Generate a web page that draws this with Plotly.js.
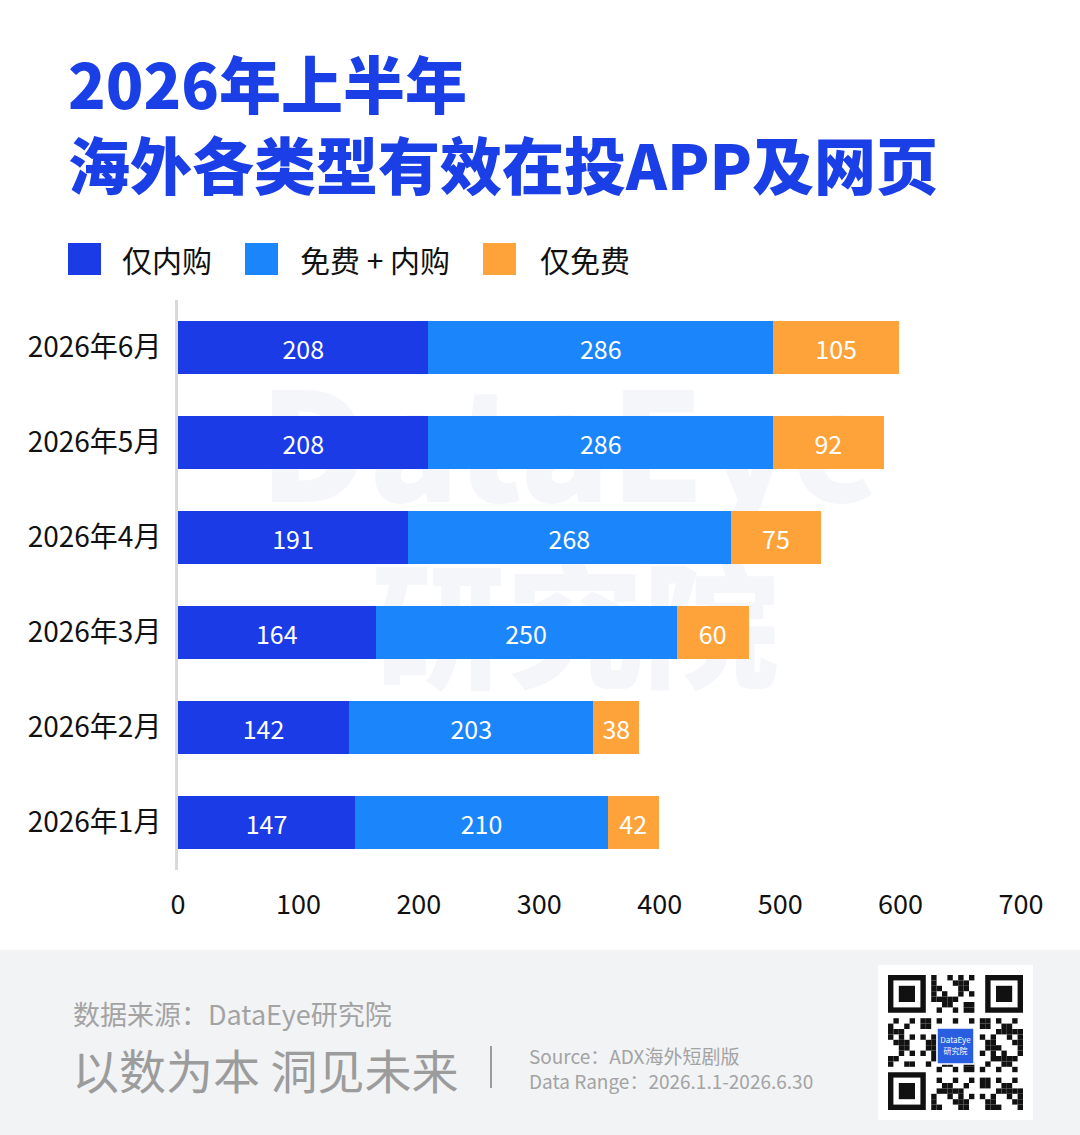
<!DOCTYPE html>
<html>
<head>
<meta charset="utf-8">
<script src="https://cdn.plot.ly/plotly-3.0.1.min.js"></script>
<style>
html,body{margin:0;padding:0;background:#fff;}
#chart{width:1080px;height:1135px;}
</style>
</head>
<body>
<div id="chart"></div>
<script>
// ---- data ----
const months = ['2026年1月','2026年2月','2026年3月','2026年4月','2026年5月','2026年6月'];
const onlyIAP = [147,142,164,191,208,208];
const freeIAP = [210,203,250,268,286,286];
const onlyFree = [42,38,60,75,92,105];
const seriesNames = ['仅内购','免费 + 内购','仅免费'];
const xTicks = [0,100,200,300,400,500,600,700];

// ---- layout helpers (pixel -> paper) ----
const W = 1080, H = 1135;
const L = 178, R = 1021, T = 300, B = 870;
const X = p => (p - L) / (R - L);
const Y = p => (B - p) / (B - T);

const FONT = '"Noto Sans CJK SC", "Noto Sans", sans-serif';
const colors = ['#1a3be6', '#1b85fb', '#fda33a'];
const titleColor = '#1b3fe6';

function barTrace(vals, i){
  return {
    type:'bar', orientation:'h', y:months, x:vals, name:seriesNames[i],
    marker:{color:colors[i], line:{width:0}},
    text: vals.map(String), textposition:'inside', insidetextanchor:'middle',
    textangle:0, constraintext:'none',
    textfont:{color:'#ffffff', size:25, family:FONT},
    hoverinfo:'none', showlegend:false
  };
}
const data = [barTrace(onlyIAP,0), barTrace(freeIAP,1), barTrace(onlyFree,2)];

const shapes = [];
const annotations = [];

// footer band
shapes.push({type:'rect', xref:'paper', yref:'paper', x0:X(0), x1:X(W), y0:Y(950), y1:Y(H),
  fillcolor:'#f2f3f5', line:{width:0}, layer:'below'});

// watermark (behind bars)
shapes.push({type:'rect', xref:'paper', yref:'paper', x0:X(250), x1:X(890), y0:Y(540), y1:Y(380),
  line:{width:0}, fillcolor:'rgba(0,0,0,0)', layer:'below',
  label:{text:'DataEye', textposition:'middle center', font:{size:150, color:'#f5f6f9', family:FONT, weight:900}}});
shapes.push({type:'rect', xref:'paper', yref:'paper', x0:X(360), x1:X(790), y0:Y(710), y1:Y(570),
  line:{width:0}, fillcolor:'rgba(0,0,0,0)', layer:'below',
  label:{text:'研究院', textposition:'middle center', font:{size:136, color:'#f5f6f9', family:FONT, weight:900}}});

// legend
const legX = [68, 245, 483];
const legTX = [120, 298, 538];
for (let i=0;i<3;i++){
  shapes.push({type:'rect', xref:'paper', yref:'paper', x0:X(legX[i]), x1:X(legX[i]+33), y0:Y(275), y1:Y(243),
    fillcolor:colors[i], line:{width:0}});
  annotations.push({xref:'paper', yref:'paper', x:X(legTX[i]), y:Y(259), xanchor:'left', yanchor:'middle',
    text:seriesNames[i], showarrow:false, font:{size:30, color:'#111111', family:FONT}});
}

// footer texts
const gray = '#a3a3a3';
annotations.push({xref:'paper', yref:'paper', x:X(71), y:Y(1013), xanchor:'left', yanchor:'middle',
  text:'数据来源：DataEye研究院', showarrow:false, font:{size:27, color:gray, family:FONT}});
annotations.push({xref:'paper', yref:'paper', x:X(70), y:Y(1068), xanchor:'left', yanchor:'middle',
  text:'以数为本 洞见未来', showarrow:false, font:{size:47, color:'#9c9c9c', family:FONT}});
shapes.push({type:'line', xref:'paper', yref:'paper', x0:X(491), x1:X(491), y0:Y(1046), y1:Y(1088),
  line:{color:'#9c9c9c', width:2}});
annotations.push({xref:'paper', yref:'paper', x:X(527), y:Y(1068), xanchor:'left', yanchor:'middle', align:'left',
  text:'Source：ADX海外短剧版<br>Data Range：2026.1.1-2026.6.30', showarrow:false,
  font:{size:19, color:gray, family:FONT}});

// QR code decoration
shapes.push({type:'rect', xref:'paper', yref:'paper', x0:X(878), x1:X(1033), y0:Y(1120), y1:Y(965),
  fillcolor:'#ffffff', line:{width:0}});
const qx0 = 888, qy0 = 975, m = 5.4, N = 25;
function sq(c0, r0, n, col){
  shapes.push({type:'rect', xref:'paper', yref:'paper',
    x0:X(qx0+c0*m), x1:X(qx0+(c0+n)*m), y0:Y(qy0+(r0+n)*m), y1:Y(qy0+r0*m),
    fillcolor:col, line:{width:0}});
}
[[0,0],[N-7,0],[0,N-7]].forEach(([c,r])=>{ sq(c,r,7,'#111'); sq(c+1,r+1,5,'#fff'); sq(c+2,r+2,3,'#111'); });
for (let r=0;r<N;r++){
  for (let c=0;c<N;c++){
    const inF = (r<8&&c<8)||(r<8&&c>=N-8)||(r>=N-8&&c<8);
    const inC = r>=9&&r<=15&&c>=9&&c<=15;
    if (inF||inC) continue;
    if (((r*31 + c*17 + r*c*7) % 11) < 5) sq(c,r,1,'#111');
  }
}
shapes.push({type:'rect', xref:'paper', yref:'paper', x0:X(937), x1:X(974), y0:Y(1064), y1:Y(1028),
  fillcolor:'#2a5ee0', line:{color:'#ffffff', width:1.5},
  label:{text:'DataEye<br>研究院', textposition:'middle center', font:{size:8, color:'#ffffff', family:FONT}}});

const layout = {
  width:W, height:H,
  margin:{l:L, r:W-R, t:T, b:H-B, pad:0},
  paper_bgcolor:'#ffffff', plot_bgcolor:'#ffffff',
  barmode:'stack', bargap:0.44,
  title:{text:'2026年上半年<br>海外各类型有效在投APP及网页', xref:'container', yref:'container', x:68/W, y:1-109/H,
    xanchor:'left', yanchor:'middle', font:{size:62, color:titleColor, family:FONT, weight:900}},
  font:{family:FONT, color:'#111'},
  xaxis:{range:[0,700], tickvals:xTicks, ticktext:xTicks.map(String), showgrid:false, zeroline:false,
    showline:false, ticks:'', tickfont:{size:27, color:'#111', family:FONT}, ticklabelstandoff:16, fixedrange:true},
  yaxis:{type:'category', categoryorder:'array', categoryarray:months, range:[-0.5,5.5],
    showgrid:false, zeroline:false, showline:true, linecolor:'#d9d9d9', linewidth:3, ticks:'',
    tickfont:{size:28, color:'#111', family:FONT}, ticklabelstandoff:8, fixedrange:true},
  shapes:shapes, annotations:annotations, showlegend:false
};

Plotly.newPlot('chart', data, layout, {displayModeBar:false, staticPlot:true});
</script>
</body>
</html>
